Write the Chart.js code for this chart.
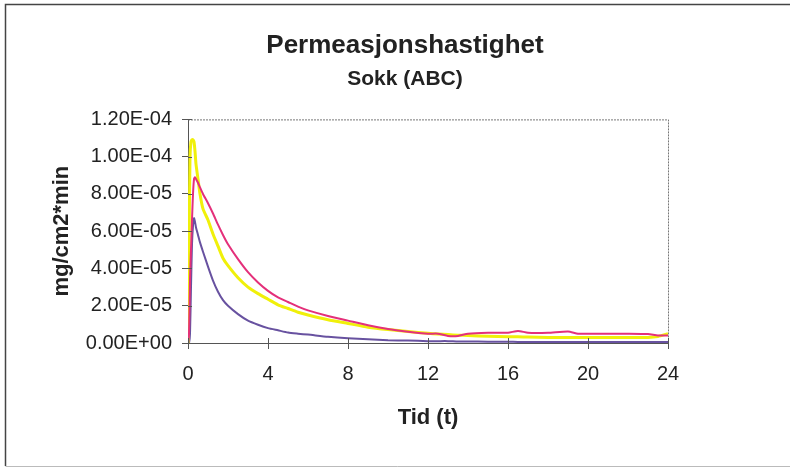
<!DOCTYPE html>
<html>
<head>
<meta charset="utf-8">
<script src="https://cdn.jsdelivr.net/npm/chart.js@4/dist/chart.umd.min.js"></script>
<style>
  body { margin: 0; background: #fff; }
  canvas { display: block; }
</style>
</head>
<body>
<canvas id="graf" width="790" height="469"></canvas>
<script>
/* ============== Data (values in E-05 mg/cm2*min) ===========*/

const tid = [0, 0.05, 0.1, 0.15, 0.2, 0.25, 0.3, 0.35, 0.4, 0.5, 0.6, 0.75, 1, 1.25, 1.5, 1.75,
  2, 2.5, 3, 3.5, 4, 4.5, 5, 5.5, 6, 7, 8, 9, 10, 11, 12, 12.5, 13, 13.5, 14, 15, 16, 16.5,
  17, 18, 19, 19.5, 20, 21, 22, 23, 23.5, 24];

const rosa = [0, 0.5, 3.4, 5.0, 6.6, 8.0, 8.8, 8.9, 8.8, 8.6, 8.35, 8.0, 7.5, 6.95, 6.35, 5.8,
  5.3, 4.5, 3.8, 3.25, 2.8, 2.45, 2.2, 1.95, 1.75, 1.45, 1.2, 0.95, 0.75, 0.6, 0.5, 0.5, 0.38, 0.38, 0.5, 0.55, 0.55, 0.65,
  0.55, 0.55, 0.62, 0.5, 0.5, 0.5, 0.5, 0.48, 0.4, 0.4];

const gul = [0, 5.0, 10.0, 10.8, 10.9, 10.9, 10.8, 10.3, 9.6, 8.8, 8.0, 7.2, 6.6, 5.85, 5.2, 4.55,
  4.15, 3.5, 3.0, 2.65, 2.35, 2.05, 1.85, 1.65, 1.5, 1.25, 1.05, 0.85, 0.72, 0.62, 0.52, 0.48, 0.45, 0.42, 0.4, 0.36, 0.34, 0.33,
  0.32, 0.3, 0.3, 0.3, 0.3, 0.3, 0.3, 0.3, 0.35, 0.5];

const lilla = [0, 0, 0.5, 3.0, 5.3, 6.3, 6.7, 6.5, 6.2, 5.8, 5.4, 4.9, 4.1, 3.35, 2.75, 2.3,
  2.0, 1.55, 1.2, 0.98, 0.8, 0.68, 0.56, 0.5, 0.45, 0.33, 0.25, 0.2, 0.15, 0.13, 0.1, 0.1, 0.1, 0.08, 0.08, 0.07, 0.07, 0.06,
  0.06, 0.06, 0.05, 0.05, 0.05, 0.05, 0.05, 0.05, 0.05, 0.05];

const xTicks = [0, 4, 8, 12, 16, 20, 24];
const yTicks = [0, 2e-5, 4e-5, 6e-5, 8e-5, 1e-4, 1.2e-4];

const punkter = (verdier) => tid.map((t, i) => ({ x: t, y: verdier[i] * 1e-5 }));

// Excel style: 1.20E-04
function sciLabel(v) {
  const [m, e] = Number(v).toExponential(2).split('e');
  const sign = e[0] === '-' ? '-' : '+';
  const digits = e.replace(/[+-]/, '').padStart(2, '0');
  return m + 'E' + sign + digits;
}

const FONT = '"Liberation Sans", Arial, sans-serif';

/* ============== Frame + cross ticks ===========*/
const ramme = {
  id: 'ramme',
  beforeDraw(chart) {
    const ctx = chart.ctx;
    ctx.save();
    ctx.fillStyle = '#fff';
    ctx.fillRect(0, 0, chart.width, chart.height);
    ctx.strokeStyle = '#444';
    ctx.lineWidth = 1.5;
    ctx.beginPath();
    ctx.moveTo(790, 4.5);
    ctx.lineTo(5.5, 4.5);
    ctx.lineTo(5.5, 466);
    ctx.stroke();
    ctx.strokeStyle = '#bbb';
    ctx.lineWidth = 1;
    ctx.beginPath();
    ctx.moveTo(5.5, 466.5);
    ctx.lineTo(790, 466.5);
    ctx.stroke();
    ctx.restore();
  },
  afterDatasetsDraw(chart) {
    const { ctx, chartArea: a, scales } = chart;
    ctx.save();
    ctx.strokeStyle = '#777';
    ctx.lineWidth = 1;
    ctx.setLineDash([2, 1]);
    ctx.beginPath();
    ctx.moveTo(a.left, a.top + 0.5);
    ctx.lineTo(a.right + 0.5, a.top + 0.5);
    ctx.lineTo(a.right + 0.5, a.bottom);
    ctx.stroke();
    ctx.setLineDash([]);
    ctx.strokeStyle = '#555';
    ctx.beginPath();
    yTicks.forEach(v => {
      const y = Math.round(scales.y.getPixelForValue(v)) + 0.5;
      ctx.moveTo(a.left, y);
      ctx.lineTo(a.left + 4, y);
    });
    xTicks.forEach(v => {
      const x = Math.round(scales.x.getPixelForValue(v)) + 0.5;
      ctx.moveTo(x, a.bottom);
      ctx.lineTo(x, a.bottom - 5);
    });
    ctx.stroke();
    ctx.restore();
  }
};

/* ============== Chart ===========*/
const graf = document.getElementById('graf');

const data = {
  datasets: [{
    label: 'A',
    data: punkter(rosa),
    borderColor: 'rgb(228, 48, 122)',
    borderWidth: 2,
    order: 1
  }, {
    label: 'B',
    data: punkter(gul),
    borderColor: 'rgb(240, 240, 10)',
    borderWidth: 3,
    order: 2
  }, {
    label: 'C',
    data: punkter(lilla),
    borderColor: 'rgb(104, 82, 160)',
    borderWidth: 2,
    order: 3
  }]
};

const config = {
  type: 'scatter',
  data,
  plugins: [ramme],
  options: {
    responsive: false,
    animation: false,
    showLine: true,
    elements: {
      point: { radius: 0 },
      line: { tension: 0.2, borderJoinStyle: 'round' }
    },
    layout: { padding: { left: 20, right: 0, top: 20, bottom: 34 } },
    plugins: {
      legend: { display: false },
      tooltip: { enabled: false },
      title: {
        display: true,
        text: 'Permeasjonshastighet',
        color: '#222',
        font: { family: FONT, size: 26, weight: 'bold' },
        padding: { top: 10, bottom: 4 }
      },
      subtitle: {
        display: true,
        text: 'Sokk (ABC)',
        color: '#222',
        font: { family: FONT, size: 21, weight: 'bold' },
        padding: { top: 1, bottom: 28 }
      }
    },
    scales: {
      x: {
        type: 'linear',
        min: 0,
        max: 24,
        afterBuildTicks: (s) => { s.ticks = xTicks.map(v => ({ value: v })); },
        afterFit: (s) => { s.height = 92; },
        ticks: {
          color: '#222',
          padding: 13,
          font: { family: FONT, size: 20 }
        },
        grid: { drawOnChartArea: false, drawTicks: true, tickLength: 6, color: '#555' },
        border: { display: true, color: '#555', width: 1 },
        title: {
          display: true,
          text: 'Tid (t)',
          color: '#222',
          font: { family: FONT, size: 22, weight: 'bold' },
          padding: { top: 0, bottom: 4 }
        }
      },
      y: {
        min: 0,
        max: 1.2e-4,
        afterBuildTicks: (s) => { s.ticks = yTicks.map(v => ({ value: v })); },
        afterFit: (s) => { s.width = 168; },
        ticks: {
          color: '#222',
          padding: 10,
          font: { family: FONT, size: 20 },
          callback: (v) => sciLabel(v)
        },
        grid: { drawOnChartArea: false, drawTicks: true, tickLength: 6, color: '#555' },
        border: { display: true, color: '#555', width: 1 },
        title: {
          display: true,
          text: 'mg/cm2*min',
          color: '#222',
          font: { family: FONT, size: 22, weight: 'bold' },
          padding: { top: 29, bottom: 0 }
        }
      },
      // empty space to the right of the plot, like the Excel chart
      hoyre: {
        position: 'right',
        display: true,
        min: 0,
        max: 1,
        ticks: { display: false },
        grid: { display: false, drawTicks: false },
        border: { display: false },
        afterFit: (s) => { s.width = 122; }
      }
    }
  }
};

const myChart = new Chart(graf, config);
</script>
</body>
</html>
